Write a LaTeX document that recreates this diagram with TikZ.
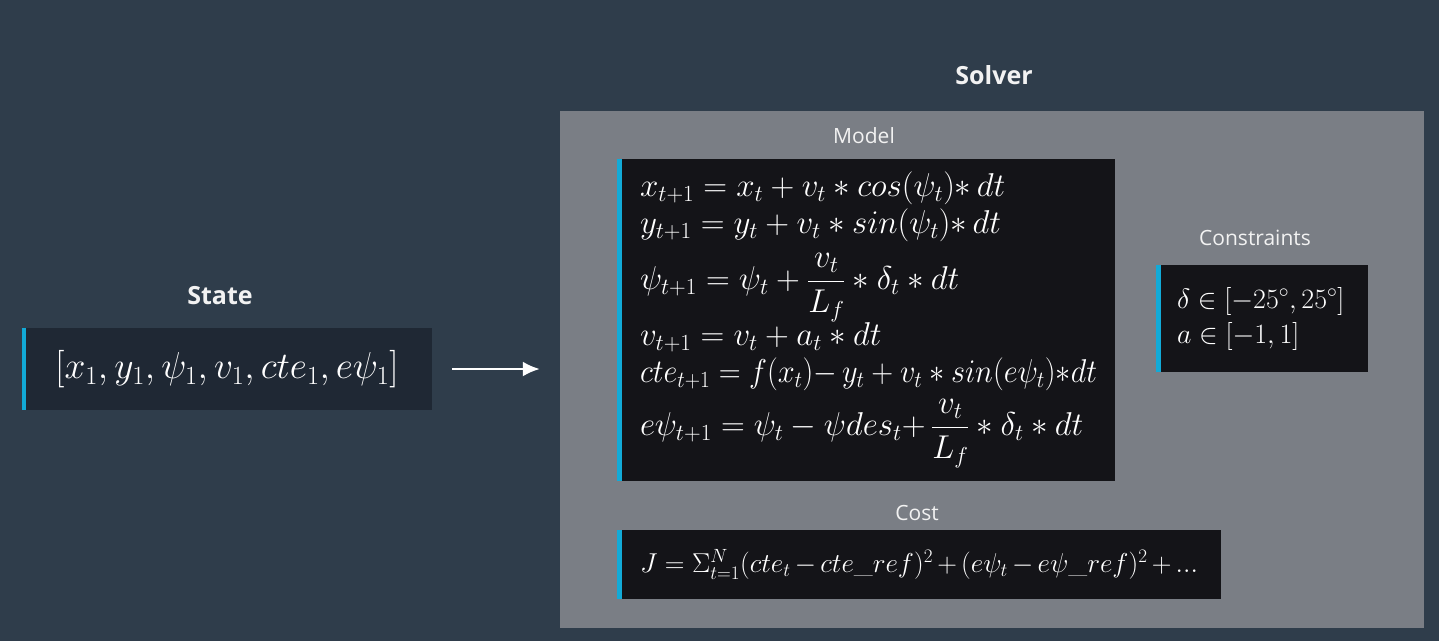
\RequirePackage{fix-cm}
\documentclass[tikz,border=0pt]{standalone}
\usepackage{amsmath,amssymb}
\usepackage[no-math]{fontspec}
\newfontfamily\labelfont{Open Sans}
\usepackage{tikz}
\usetikzlibrary{arrows.meta,positioning,calc}
\definecolor{slatebg}{RGB}{47,61,75}
\definecolor{solvergray}{RGB}{122,126,133}
\definecolor{boxblack}{RGB}{20,20,24}
\definecolor{statefill}{RGB}{31,40,52}
\definecolor{accentcyan}{RGB}{18,170,215}
\definecolor{labelwhite}{RGB}{242,242,242}

\begin{document}
\begin{tikzpicture}[x=1pt,y=-1pt, >=Latex]
  \tikzstyle{title}=[text=labelwhite, font=\labelfont\bfseries\fontsize{25}{30}\selectfont]
  \tikzstyle{caption}=[text=labelwhite, font=\labelfont\fontsize{21}{25}\selectfont]
  \tikzstyle{eqbox}=[rectangle, fill=boxblack, text=white, inner xsep=23pt, inner ysep=0pt, align=left]
  \fill[slatebg] (0,0) rectangle (1439,641);
  \node[title] (statelbl) at (220,296) {State};
  \node[eqbox, fill=statefill, align=center, minimum width=410, minimum height=82, font=\fontsize{37.5}{42}\selectfont] (state) at (227,369) {$[x_1,y_1,\psi_1,v_1,cte_1,e\psi_1]$};
  \fill[accentcyan] (state.north west) rectangle ([xshift=4pt]state.south west);
  \node[title] (solverlbl) at (994,75) {Solver};
  \node[rectangle, fill=solvergray, minimum width=864, minimum height=517] (solver) at (992,369.5) {};
  \draw[->, draw=white, line width=2.5pt, shorten <=20pt, shorten >=20pt, -{Latex[length=17pt,width=15pt]}] (state.east) -- (state.east -| solver.west);
  \node[caption] (modellbl) at (864,136) {Model};
  \node[eqbox, text width=452, minimum height=322, font=\fontsize{33}{36.5}\selectfont] (model) at (866,320) {%
    $x_{t+1} = x_t + v_t * cos(\psi_t){*}\, dt$\\
    $y_{t+1} = y_t + v_t * sin(\psi_t){*}\, dt$\\[10.5pt]
    $\psi_{t+1} = \psi_t + \dfrac{v_t}{L_f} * \delta_t * dt$\\
    $v_{t+1} = v_t + a_t * dt$\\
    \resizebox{457pt}{\height}{$cte_{t+1} = f(x_t){-}\,y_t + v_t * sin(e\psi_t){*}dt$}\\[8pt]
    $e\psi_{t+1} = \psi_t - \psi des_t{+}\,\dfrac{v_t}{L_f} * \delta_t * dt$};
  \fill[accentcyan] (model.north west) rectangle ([xshift=5pt]model.south west);
  \node[caption] (conslbl) at (1255,238) {Constraints};
  \node[eqbox, inner xsep=21pt, text width=170, minimum height=107, font=\fontsize{28}{35}\selectfont] (cons) at (1262,318.5) {%
    $\delta \in [-25^\circ, 25^\circ]$\\
    $a \in [-1, 1]$};
  \fill[accentcyan] (cons.north west) rectangle ([xshift=5pt]cons.south west);
  \node[caption] (costlbl) at (917,513) {Cost};
  \node[eqbox, text width=558, minimum height=69, font=\fontsize{27.3}{33}\selectfont] (cost) at (919,564.5) {%
    $J = \Sigma_{t=1}^{N}(cte_t - cte\_ref)^2 + (e\psi_t - e\psi\_ref)^2 + ...$};
  \fill[accentcyan] (cost.north west) rectangle ([xshift=5pt]cost.south west);
\end{tikzpicture}
\end{document}
